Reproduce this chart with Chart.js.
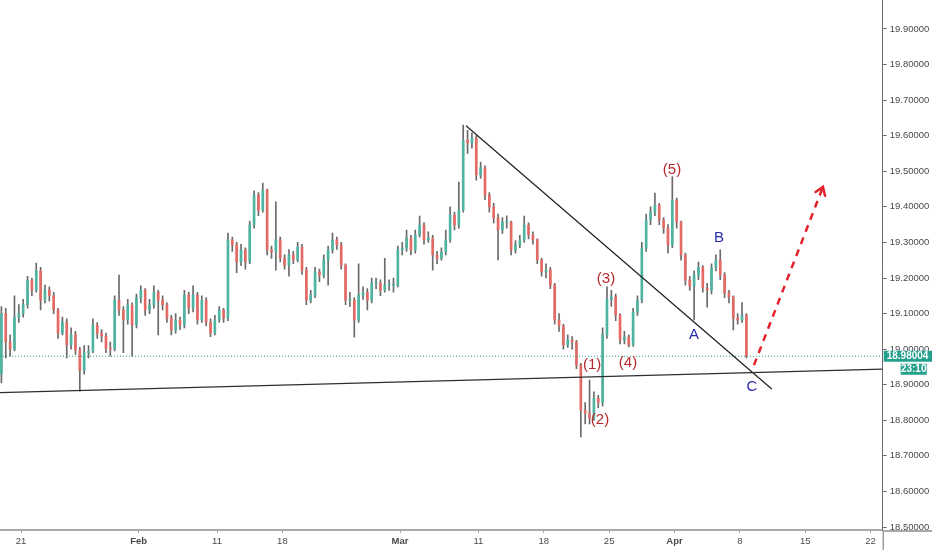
<!DOCTYPE html>
<html>
<head>
<meta charset="utf-8">
<script src="https://cdn.jsdelivr.net/npm/chart.js@4.4.1/dist/chart.umd.min.js"></script>
<style>
  html, body { margin: 0; padding: 0; background: #fff; }
  #wrap { width: 932px; height: 550px; position: relative; }
</style>
</head>
<body>
<div id="wrap"><canvas id="chart"></canvas></div>
<script>
// 8h candles, 3 per trading day, first one 1.5 days before Jan 21
const candlesPerDay = 3;
const firstDay = -1.5;

const opens = [
  18.930, 19.100, 19.020, 19.000, 19.090, 19.100, 19.125, 19.194, 19.166, 19.220,
  19.138, 19.166, 19.150, 19.110, 19.045, 19.076, 19.012, 19.040, 18.998, 18.940,
  18.990, 18.994, 19.068, 19.045, 19.037, 19.003, 19.000, 19.138, 19.110, 19.082,
  19.124, 19.068, 19.144, 19.166, 19.110, 19.124, 19.160, 19.138, 19.124, 19.087,
  19.054, 19.082, 19.068, 19.152, 19.116, 19.152, 19.082, 19.138, 19.076, 19.045,
  19.082, 19.110, 19.087, 19.307, 19.293, 19.245, 19.279, 19.245, 19.349, 19.433,
  19.391, 19.447, 19.279, 19.273, 19.307, 19.256, 19.236, 19.265, 19.251, 19.287,
  19.222, 19.138, 19.152, 19.217, 19.208, 19.251, 19.279, 19.307, 19.293, 19.236,
  19.138, 19.138, 19.082, 19.152, 19.160, 19.138, 19.186, 19.186, 19.166, 19.180,
  19.180, 19.180, 19.279, 19.284, 19.312, 19.279, 19.321, 19.349, 19.307, 19.312,
  19.265, 19.256, 19.273, 19.307, 19.377, 19.349, 19.391, 19.588, 19.580, 19.594,
  19.490, 19.510, 19.433, 19.400, 19.369, 19.335, 19.357, 19.357, 19.279, 19.293,
  19.307, 19.349, 19.321, 19.307, 19.251, 19.217, 19.222, 19.180, 19.082, 19.065,
  19.012, 19.026, 19.020, 18.955, 18.829, 18.820, 18.806, 18.862, 18.850, 19.040,
  19.140, 19.147, 19.096, 19.026, 19.034, 19.012, 19.104, 19.138, 19.284, 19.363,
  19.385, 19.405, 19.363, 19.340, 19.293, 19.419, 19.357, 19.265, 19.194, 19.177,
  19.208, 19.230, 19.172, 19.166, 19.228, 19.251, 19.208, 19.158, 19.147, 19.087,
  19.082, 19.096
];
const highs = [
  19.120, 19.115, 19.040, 19.150, 19.125, 19.140, 19.205, 19.200, 19.242, 19.230,
  19.180, 19.175, 19.160, 19.115, 19.090, 19.085, 19.060, 19.050, 19.005, 19.010,
  19.010, 19.085, 19.075, 19.055, 19.045, 19.020, 19.150, 19.208, 19.120, 19.140,
  19.130, 19.155, 19.178, 19.170, 19.140, 19.178, 19.165, 19.150, 19.130, 19.095,
  19.100, 19.090, 19.165, 19.160, 19.178, 19.160, 19.150, 19.145, 19.085, 19.095,
  19.120, 19.115, 19.326, 19.315, 19.300, 19.295, 19.285, 19.360, 19.445, 19.440,
  19.467, 19.450, 19.290, 19.414, 19.315, 19.265, 19.280, 19.275, 19.300, 19.295,
  19.230, 19.165, 19.230, 19.225, 19.265, 19.290, 19.326, 19.315, 19.300, 19.240,
  19.160, 19.145, 19.240, 19.175, 19.170, 19.200, 19.200, 19.195, 19.255, 19.195,
  19.200, 19.290, 19.300, 19.335, 19.320, 19.335, 19.374, 19.355, 19.330, 19.320,
  19.275, 19.285, 19.335, 19.400, 19.385, 19.470, 19.630, 19.615, 19.608, 19.600,
  19.525, 19.515, 19.440, 19.410, 19.380, 19.370, 19.375, 19.360, 19.305, 19.320,
  19.374, 19.355, 19.330, 19.310, 19.255, 19.240, 19.230, 19.185, 19.100, 19.070,
  19.040, 19.035, 19.025, 18.960, 18.850, 18.913, 18.880, 18.870, 19.060, 19.175,
  19.165, 19.155, 19.100, 19.050, 19.040, 19.115, 19.150, 19.300, 19.380, 19.400,
  19.439, 19.410, 19.370, 19.350, 19.485, 19.425, 19.360, 19.270, 19.205, 19.220,
  19.245, 19.235, 19.185, 19.240, 19.265, 19.279, 19.215, 19.165, 19.150, 19.100,
  19.131, 19.100
];
const lows = [
  18.905, 18.975, 18.980, 18.995, 19.075, 19.090, 19.115, 19.150, 19.160, 19.110,
  19.130, 19.135, 19.100, 19.030, 19.040, 18.975, 19.000, 18.985, 18.882, 18.930,
  18.975, 18.990, 19.030, 19.020, 18.990, 18.980, 18.995, 19.095, 18.990, 19.070,
  18.980, 19.060, 19.130, 19.095, 19.100, 19.115, 19.040, 19.110, 19.075, 19.040,
  19.045, 19.055, 19.060, 19.100, 19.105, 19.070, 19.075, 19.065, 19.035, 19.040,
  19.075, 19.075, 19.080, 19.275, 19.215, 19.235, 19.225, 19.240, 19.340, 19.375,
  19.385, 19.265, 19.255, 19.222, 19.245, 19.225, 19.205, 19.240, 19.245, 19.210,
  19.125, 19.130, 19.145, 19.190, 19.200, 19.180, 19.270, 19.280, 19.225, 19.125,
  19.120, 19.034, 19.075, 19.140, 19.110, 19.130, 19.170, 19.150, 19.160, 19.165,
  19.160, 19.175, 19.265, 19.275, 19.265, 19.270, 19.315, 19.295, 19.300, 19.222,
  19.240, 19.250, 19.265, 19.300, 19.335, 19.340, 19.385, 19.550, 19.565, 19.475,
  19.480, 19.420, 19.385, 19.355, 19.251, 19.325, 19.340, 19.265, 19.270, 19.285,
  19.300, 19.310, 19.295, 19.240, 19.205, 19.200, 19.170, 19.070, 19.050, 19.000,
  19.005, 19.000, 18.945, 18.753, 18.790, 18.790, 18.800, 18.835, 18.840, 19.030,
  19.120, 19.080, 19.015, 19.015, 19.006, 19.008, 19.095, 19.130, 19.275, 19.350,
  19.375, 19.350, 19.325, 19.270, 19.285, 19.340, 19.250, 19.180, 19.165, 19.082,
  19.195, 19.160, 19.118, 19.155, 19.220, 19.195, 19.145, 19.130, 19.054, 19.070,
  19.075, 18.975
];
const closes = [
  19.100, 19.020, 19.000, 19.090, 19.100, 19.125, 19.194, 19.166, 19.220, 19.138,
  19.166, 19.150, 19.110, 19.045, 19.076, 19.012, 19.040, 18.998, 18.940, 18.990,
  18.994, 19.068, 19.045, 19.037, 19.003, 19.000, 19.138, 19.110, 19.082, 19.124,
  19.068, 19.144, 19.166, 19.110, 19.124, 19.160, 19.138, 19.124, 19.087, 19.054,
  19.082, 19.068, 19.152, 19.116, 19.152, 19.082, 19.138, 19.076, 19.045, 19.082,
  19.110, 19.087, 19.307, 19.293, 19.245, 19.279, 19.245, 19.349, 19.433, 19.391,
  19.447, 19.279, 19.273, 19.307, 19.256, 19.236, 19.265, 19.251, 19.287, 19.222,
  19.138, 19.152, 19.217, 19.208, 19.251, 19.279, 19.307, 19.293, 19.236, 19.138,
  19.138, 19.082, 19.152, 19.160, 19.138, 19.186, 19.186, 19.166, 19.180, 19.180,
  19.180, 19.279, 19.284, 19.312, 19.279, 19.321, 19.349, 19.307, 19.312, 19.265,
  19.256, 19.273, 19.307, 19.377, 19.349, 19.391, 19.588, 19.580, 19.594, 19.490,
  19.510, 19.433, 19.400, 19.369, 19.335, 19.357, 19.357, 19.279, 19.293, 19.307,
  19.349, 19.321, 19.307, 19.251, 19.217, 19.222, 19.180, 19.082, 19.065, 19.012,
  19.026, 19.020, 18.955, 18.829, 18.820, 18.806, 18.862, 18.850, 19.040, 19.140,
  19.147, 19.096, 19.026, 19.034, 19.012, 19.104, 19.138, 19.284, 19.363, 19.385,
  19.405, 19.363, 19.340, 19.293, 19.419, 19.357, 19.265, 19.194, 19.177, 19.208,
  19.230, 19.172, 19.166, 19.228, 19.251, 19.208, 19.158, 19.147, 19.087, 19.082,
  19.096, 18.980
];

// axis ticks (x in trading days from Jan 21)
const tickDays = [0, 9, 15, 20, 29, 35, 40, 45, 50, 55, 60, 65];
const tickLabels = ['21', 'Feb', '11', '18', 'Mar', '11', '18', '25', 'Apr', '8', '15', '22'];
const monthLabels = ['Feb', 'Mar', 'Apr'];
const priceTicks = [18.5, 18.6, 18.7, 18.8, 18.9, 19.0, 19.1, 19.2, 19.3, 19.4, 19.5, 19.6, 19.7, 19.8, 19.9];

// drawings
const supportDays = [-1.607, 65.93];
const supportPrices = [18.878, 18.944];
const resistDays = [34.05, 57.44];
const resistPrices = [19.628, 18.888];
const projDays = [56.08, 61.36];
const projPrices = [18.955, 19.456];
const lastPrice = 18.98004;
const lastPriceText = '18.98004';
const countdownText = '23:10';

const waveText = ['(1)', '(2)', '(3)', '(4)', '(5)'];
const waveDays = [43.7, 44.3, 44.76, 46.44, 49.81];
const wavePrices = [18.955, 18.801, 19.197, 18.961, 19.504];
const abcText = ['A', 'B', 'C'];
const abcDays = [51.49, 53.40, 55.93];
const abcPrices = [19.040, 19.312, 18.894];

const UP = '#4fb3a2';
const DOWN = '#e46a66';
const TEAL = '#22a08c';
const FONT = 'Liberation Sans, Arial, sans-serif';

const candleX = opens.map((o, i) => firstDay + i / candlesPerDay);
const wickData = candleX.map((x, i) => ({x: x, y: [lows[i], highs[i]]}));
const bodyData = candleX.map((x, i) => ({x: x, y: [opens[i], closes[i]]}));
const bodyColors = opens.map((o, i) => closes[i] >= o ? UP : DOWN);
const xMin = -1.607, xMax = 65.93;

function noPad(s) {
  s.paddingTop = 0; s.paddingBottom = 0; s.paddingLeft = 0; s.paddingRight = 0;
}

const overlay = {
  id: 'overlay',
  afterDatasetsDraw(chart) {
    const ctx = chart.ctx;
    const xs = chart.scales.x, ys = chart.scales.y;
    ctx.save();
    // arrow head on the projection
    const x0 = xs.getPixelForValue(projDays[0]), y0 = ys.getPixelForValue(projPrices[0]);
    const x1 = xs.getPixelForValue(projDays[1]), y1 = ys.getPixelForValue(projPrices[1]);
    const a = Math.atan2(y1 - y0, x1 - x0);
    ctx.strokeStyle = '#e3222b';
    ctx.lineWidth = 2.5;
    ctx.lineCap = 'round';
    ctx.beginPath();
    ctx.moveTo(x1 - 9 * Math.cos(a - 0.6), y1 - 9 * Math.sin(a - 0.6));
    ctx.lineTo(x1, y1);
    ctx.lineTo(x1 - 9 * Math.cos(a + 0.6), y1 - 9 * Math.sin(a + 0.6));
    ctx.stroke();
    // wave labels
    ctx.font = '15px ' + FONT;
    ctx.textAlign = 'center';
    ctx.textBaseline = 'middle';
    ctx.fillStyle = '#b8282c';
    waveText.forEach((t, i) => {
      ctx.fillText(t, xs.getPixelForValue(waveDays[i]), ys.getPixelForValue(wavePrices[i]));
    });
    ctx.fillStyle = '#2b2bb0';
    abcText.forEach((t, i) => {
      ctx.fillText(t, xs.getPixelForValue(abcDays[i]), ys.getPixelForValue(abcPrices[i]));
    });
    ctx.restore();
  },
  afterDraw(chart) {
    const ctx = chart.ctx;
    const area = chart.chartArea;
    const ys = chart.scales.y;
    ctx.save();
    // axis line extensions
    ctx.strokeStyle = '#6e6e6e';
    ctx.lineWidth = 1;
    ctx.beginPath();
    ctx.moveTo(area.right + 0.5, area.bottom);
    ctx.lineTo(area.right + 0.5, chart.height);
    ctx.stroke();
    ctx.strokeStyle = '#a8a8a8';
    ctx.lineWidth = 2;
    ctx.beginPath();
    ctx.moveTo(area.right, area.bottom + 1);
    ctx.lineTo(chart.width, area.bottom + 1);
    ctx.stroke();
    // last price boxes
    const py = ys.getPixelForValue(lastPrice);
    ctx.fillStyle = TEAL;
    ctx.fillRect(area.right + 1, py - 5.5, chart.width - area.right - 1, 11);
    ctx.fillRect(area.right + 18, py + 7.5, 26, 11);
    ctx.fillStyle = '#fff';
    ctx.font = 'bold 10px ' + FONT;
    ctx.textBaseline = 'middle';
    ctx.textAlign = 'left';
    ctx.fillText(lastPriceText, area.right + 4, py + 0.5);
    ctx.textAlign = 'center';
    ctx.fillText(countdownText, area.right + 31, py + 13.5);
    ctx.restore();
  }
};

new Chart(document.getElementById('chart'), {
  type: 'bar',
  data: {
    datasets: [
      {
        type: 'line', data: supportDays.map((d, i) => ({x: d, y: supportPrices[i]})),
        borderColor: '#2f2f2f', borderWidth: 1.3, pointRadius: 0, order: 0
      },
      {
        type: 'line', data: resistDays.map((d, i) => ({x: d, y: resistPrices[i]})),
        borderColor: '#1f1f1f', borderWidth: 1.2, pointRadius: 0, order: 0
      },
      {
        type: 'line', data: projDays.map((d, i) => ({x: d, y: projPrices[i]})),
        borderColor: '#e3222b', borderWidth: 2.5, borderDash: [7, 6], pointRadius: 0, order: 0
      },
      {
        type: 'line', data: [{x: xMin, y: lastPrice}, {x: xMax, y: lastPrice}],
        borderColor: TEAL, borderWidth: 1, borderDash: [1, 2], pointRadius: 0, order: 1
      },
      {
        data: bodyData, backgroundColor: bodyColors, barThickness: 2,
        minBarLength: 1, grouped: false, order: 2
      },
      {
        data: wickData, backgroundColor: '#6a6a6a', barThickness: 1,
        grouped: false, order: 3
      }
    ]
  },
  options: {
    responsive: true,
    maintainAspectRatio: false,
    animation: false,
    events: [],
    layout: {padding: 0},
    plugins: {legend: {display: false}, tooltip: {enabled: false}},
    scales: {
      x: {
        type: 'linear', min: xMin, max: xMax, offset: false,
        grid: {drawOnChartArea: false, offset: false, tickLength: 3, color: '#a8a8a8'},
        border: {display: true, color: '#a8a8a8', width: 2},
        afterBuildTicks: s => { s.ticks = tickDays.map(v => ({value: v})); },
        afterFit: s => { s.height = 20; noPad(s); },
        ticks: {
          autoSkip: false, maxRotation: 0, padding: 3, color: '#4a4a4a',
          font: c => ({family: FONT, size: 9.5, weight: monthLabels.includes(tickLabels[c.index]) ? 'bold' : 'normal'}),
          callback: (v, i) => tickLabels[i]
        }
      },
      y: {
        type: 'linear', position: 'right', min: 18.4916, max: 19.9815,
        grid: {drawOnChartArea: false, offset: false, tickLength: 4, color: '#6e6e6e'},
        border: {display: true, color: '#6e6e6e', width: 1},
        afterBuildTicks: s => { s.ticks = priceTicks.map(v => ({value: v})); },
        afterFit: s => { s.width = 49.3; noPad(s); },
        ticks: {
          padding: 3, color: '#4a4a4a', font: {family: FONT, size: 9.5},
          callback: v => v.toFixed(5)
        }
      }
    }
  },
  plugins: [overlay]
});
</script>
</body>
</html>
